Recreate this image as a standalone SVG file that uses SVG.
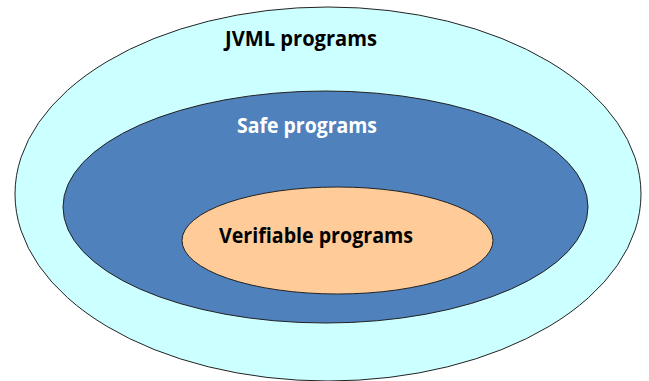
<svg xmlns="http://www.w3.org/2000/svg" width="649" height="381" viewBox="0 0 649 381">
  <style>
    .set { stroke: #222; stroke-width: 1; }
    .label { font-family: "Open Sans", "Liberation Sans", sans-serif; font-weight: bold; font-size: 22px; }
  </style>
  <rect width="649" height="381" fill="#ffffff"/>
  <g id="jvml">
    <ellipse class="set" cx="328" cy="194" rx="313" ry="187" fill="#CCFFFF"/>
    <text class="label" x="225" y="46" textLength="152" lengthAdjust="spacingAndGlyphs" fill="#000000">JVML programs</text>
  </g>
  <g id="safe">
    <ellipse class="set" cx="325.5" cy="207" rx="262.5" ry="116" fill="#4F81BD"/>
    <text class="label" x="237" y="133" textLength="140" lengthAdjust="spacingAndGlyphs" fill="#ffffff">Safe programs</text>
  </g>
  <g id="verifiable">
    <ellipse class="set" cx="337.5" cy="240.5" rx="155.5" ry="53.5" fill="#FFCC99"/>
    <text class="label" x="219" y="243" textLength="194" lengthAdjust="spacingAndGlyphs" fill="#000000">Verifiable programs</text>
  </g>
  <g id="connectors"/>
</svg>
